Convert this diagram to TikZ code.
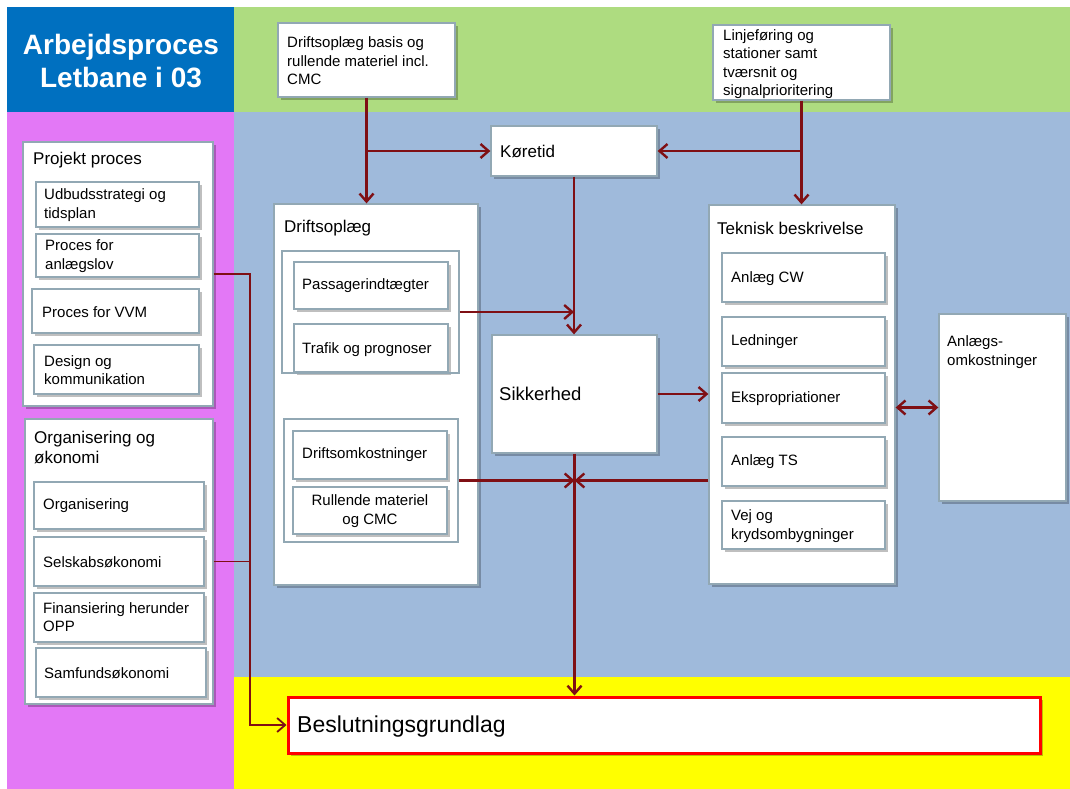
\documentclass[tikz,border=0pt]{standalone}
\usepackage{fontspec}
\setmainfont{Liberation Sans}
\usetikzlibrary{arrows.meta,shadows}
\definecolor{titleblue}{HTML}{0070C0}
\definecolor{topgreen}{HTML}{AEDC80}
\definecolor{leftpink}{HTML}{E378F6}
\definecolor{midblue}{HTML}{9FBADB}
\definecolor{botyellow}{HTML}{FFFF00}
\definecolor{arrowred}{HTML}{7F0F14}
\definecolor{boxborder}{HTML}{92A8B4}
\newcommand\bx[6]{\node[#2, minimum width={(#5)-(#3)}, minimum height={(#6)-(#4)}] (#1) at ({((#3)+(#5))/2},{((#4)+(#6))/2}) {};}
\tikzset{
  box/.style={draw=boxborder, line width=1.3pt, fill=white, inner sep=0pt,
    drop shadow={shadow xshift=2.5pt, shadow yshift=-3pt, fill=black, opacity=0.25}},
  grp/.style={draw=boxborder, line width=1.8pt, inner sep=0pt},
  redbox/.style={draw=red, line width=3pt, fill=white, inner sep=0pt,
    drop shadow={shadow xshift=2.5pt, shadow yshift=-3pt, fill=black, opacity=0.25}},
  txt/.style={inner sep=0pt, anchor=west, align=left, text=black, font=\fontsize{15}{18.5}\selectfont},
  ttl/.style={txt, font=\fontsize{17}{20}\selectfont},
  arr/.style={draw=arrowred, line width=2.4pt, -{Straight Barb[length=8pt,width=14pt]}},
  dbl/.style={draw=arrowred, line width=2.4pt, {Straight Barb[length=8pt,width=14pt]}-{Straight Barb[length=8pt,width=14pt]}},
  ln/.style={draw=arrowred, line width=2.4pt},
}
\begin{document}
\begin{tikzpicture}[x=1pt,y=-1pt]
\useasboundingbox (0,0) rectangle (1070,789);
% backgrounds
\fill[white] (0,0) rectangle (1070,789);
\fill[titleblue] (7,7) rectangle (234,112);
\fill[topgreen] (234,7) rectangle (1070,112);
\fill[leftpink] (7,112) rectangle (234,789);
\fill[midblue] (234,112) rectangle (1070,677);
\fill[botyellow] (234,677) rectangle (1070,789);
% title
\node[inner sep=0pt, align=center, text=white, font=\bfseries\fontsize{28}{33}\selectfont] (title) at (121,61) {Arbejdsproces\\Letbane i 03};
% top boxes
\bx{basis}{box}{278}{23}{455}{97}
\node[txt] (basis-t) at (287,61) {Driftsoplæg basis og\\rullende materiel incl.\\CMC};
\bx{linje}{box}{713}{25}{890}{100}
\node[txt] (linje-t) at (723,64) {Linjeføring og\\stationer samt\\tværsnit og\\signalprioritering};
\bx{koretid}{box}{491}{126}{657}{176}
\node[ttl] (koretid-t) at (500,151) {Køretid};
% Driftsoplaeg
\bx{drift}{box}{274}{204}{478}{585}
\node[ttl] (drift-t) at (284,228) {Driftsoplæg};
\bx{pass}{box}{294}{262}{448}{309}
\node[txt] (pass-t) at (302,286) {Passagerindtægter};
\bx{trafik}{box}{294}{324}{448}{372}
\node[txt] (trafik-t) at (302,350) {Trafik og prognoser};
\bx{grpA}{grp}{282}{251}{459}{373}
\bx{dom}{box}{293}{431}{447}{479}
\node[txt] (dom-t) at (302,455) {Driftsomkostninger};
\bx{rull}{box}{293}{487}{447}{534}
\node[txt, anchor=center, align=center] (rull-t) at (370,511) {Rullende materiel\\og CMC};
\bx{grpB}{grp}{284}{419}{458}{542}
% Sikkerhed
\bx{sik}{box}{492}{335}{657}{453}
\node[txt, font=\fontsize{18.5}{22}\selectfont] (sik-t) at (499,394) {Sikkerhed};
% Teknisk
\bx{tek}{box}{709}{205}{895}{584}
\node[ttl] (tek-t) at (717,228) {Teknisk beskrivelse};
\bx{cw}{box}{722}{253}{885}{302}
\node[txt] (cw-t) at (731,279) {Anlæg CW};
\bx{led}{box}{722}{317}{885}{366}
\node[txt] (led-t) at (731,342) {Ledninger};
\bx{eks}{box}{722}{373}{885}{423}
\node[txt] (eks-t) at (731,399) {Ekspropriationer};
\bx{ts}{box}{722}{437}{885}{486}
\node[txt] (ts-t) at (731,462) {Anlæg TS};
\bx{vej}{box}{722}{501}{885}{549}
\node[txt] (vej-t) at (731,526) {Vej og\\krydsombygninger};
% Anlaegsomkostninger
\bx{anl}{box}{939}{314}{1066}{501}
\node[txt] (anl-t) at (947,352) {Anlægs-\\omkostninger};
% Projekt proces
\bx{proj}{box}{23}{142}{213}{406}
\node[ttl] (proj-t) at (33,160) {Projekt proces};
\bx{udb}{box}{36}{182}{199}{227}
\node[txt] (udb-t) at (44,205) {Udbudsstrategi og\\tidsplan};
\bx{anlov}{box}{36}{234}{199}{277}
\node[txt] (anlov-t) at (45,256) {Proces for\\anlægslov};
\bx{vvm}{box}{32}{289}{199}{333}
\node[txt] (vvm-t) at (42,312) {Proces for VVM};
\bx{design}{box}{34}{345}{199}{394}
\node[txt] (design-t) at (44,370) {Design og\\kommunikation};
% Organisering
\bx{org}{box}{25}{419}{213}{704}
\node[ttl] (org-t) at (34,447) {Organisering og\\økonomi};
\bx{orgn}{box}{34}{482}{204}{529}
\node[txt] (orgn-t) at (43,506) {Organisering};
\bx{selsk}{box}{34}{537}{204}{586}
\node[txt] (selsk-t) at (43,562) {Selskabsøkonomi};
\bx{fin}{box}{34}{593}{204}{642}
\node[txt] (fin-t) at (43,617) {Finansiering herunder\\OPP};
\bx{samf}{box}{36}{648}{206}{697}
\node[txt] (samf-t) at (44,673) {Samfundsøkonomi};
% Beslutningsgrundlag
\bx{besl}{redbox}{288}{697}{1040}{753}
\node[txt, font=\fontsize{23}{26}\selectfont] (besl-t) at (297,727) {Beslutningsgrundlag};
% connectors
\draw[arr] (basis.south) -- (basis.south |- drift.north);
\draw[arr] (basis.south |- koretid.west) -- (koretid.west);
\draw[arr] (linje.south) -- (linje.south |- tek.north);
\draw[arr] (linje.south |- koretid.east) -- (koretid.east);
\draw[arr] (koretid.south) -- (koretid.south |- sik.north);
\draw[arr] (grpA.east) -- (grpA.east -| koretid.south);
\draw[arr] (sik.east) -- (sik.east -| tek.west);
\draw[dbl] (anl.west -| tek.east) -- (anl.west);
\coordinate (junc) at (sik.south |- grpB.east);
\draw[arr] (sik.south) -- (sik.south |- besl.north);
\draw[arr] (grpB.east) -- (junc);
\draw[arr] (junc -| tek.west) -- (junc);
\coordinate (bend) at (250,274);
\draw[arr, line width=1.8pt] (proj.east) -- (bend) |- (besl.west);
\draw[ln, line width=1.8pt] (org.east) -- (org.east -| bend);
\end{tikzpicture}
\end{document}
